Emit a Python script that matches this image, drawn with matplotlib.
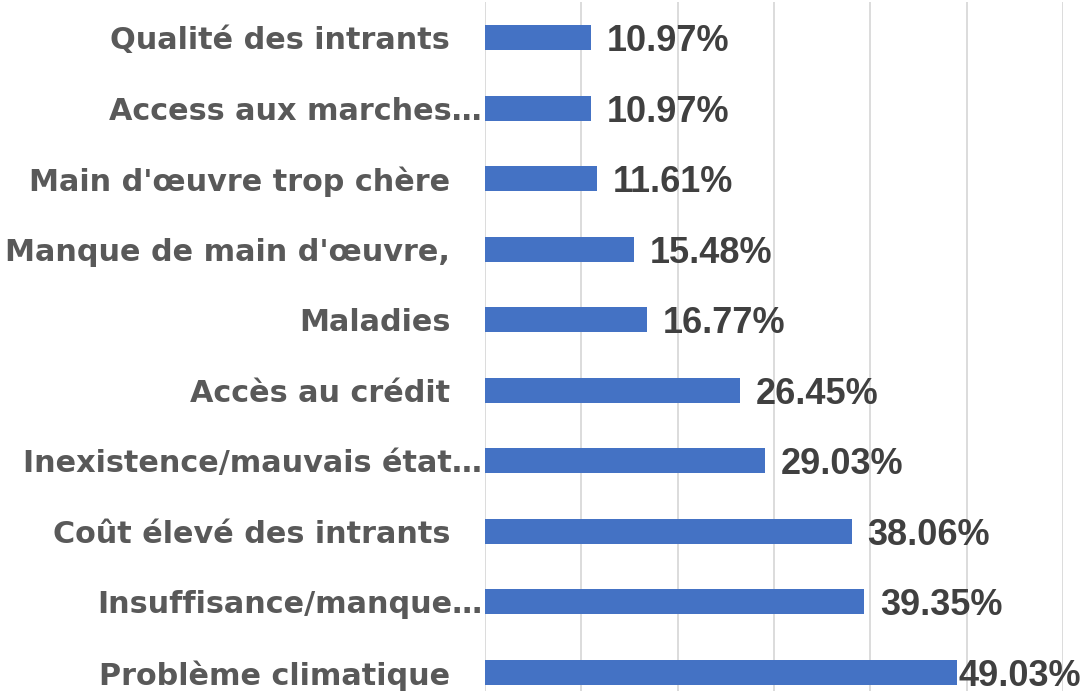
import matplotlib
matplotlib.use("Agg")
import matplotlib.pyplot as plt
from matplotlib.transforms import ScaledTranslation

# Data (bottom to top)
categories = [
    "Problème climatique",
    "Insuffisance/manque…",
    "Coût élevé des intrants",
    "Inexistence/mauvais état…",
    "Accès au crédit",
    "Maladies",
    "Manque de main d'œuvre,",
    "Main d'œuvre trop chère",
    "Access aux marches…",
    "Qualité des intrants",
]
values = [49.03, 39.35, 38.06, 29.03, 26.45, 16.77, 15.48, 11.61, 10.97, 10.97]
value_labels = ["49.03%", "39.35%", "38.06%", "29.03%", "26.45%",
                "16.77%", "15.48%", "11.61%", "10.97%", "10.97%"]
x_ticks = [0, 10, 20, 30, 40, 50, 60]

BAR = "#4472C4"
GRID = "#D9D9D9"
TICK_COLOR = "#595959"
VAL_COLOR = "#404040"

W, H = 1084, 691
DPI = 100
fig = plt.figure(figsize=(W / DPI, H / DPI), dpi=DPI)
fig.patch.set_facecolor("white")

left_px, right_px = 485, 1063
top_px, bottom_px = 2.2, 707.8
ax = fig.add_axes([left_px / W, (H - bottom_px) / H,
                   (right_px - left_px) / W, (bottom_px - top_px) / H])

ypos = list(range(len(categories)))
ax.barh(ypos, values, height=0.354, color=BAR, zorder=3)

ax.set_xlim(x_ticks[0], x_ticks[-1])
ax.set_ylim(-0.5, len(categories) - 0.5)
ax.set_xticks(x_ticks)
ax.xaxis.set_ticklabels([])
ax.tick_params(axis="x", length=0)
ax.grid(axis="x", color=GRID, linewidth=1.3, zorder=0)
ax.set_axisbelow(True)
for s in ax.spines.values():
    s.set_visible(False)

ax.set_yticks(ypos)
ax.set_yticklabels(categories, fontfamily="DejaVu Sans", fontweight="bold",
                   fontsize=21.8, color=TICK_COLOR)
ax.tick_params(axis="y", length=0, pad=2)
for lbl in ax.get_yticklabels():
    if not lbl.get_text().endswith("…"):
        lbl.set_transform(lbl.get_transform() +
                          ScaledTranslation(-32 / DPI, 0, fig.dpi_scale_trans))

texts = []
for y, v, s in zip(ypos, values, value_labels):
    t = ax.text(v, y, s, ha="left", va="center_baseline",
                fontfamily="Liberation Sans", fontweight="bold",
                fontsize=26, color=VAL_COLOR, zorder=4,
                transform=ax.transData + ScaledTranslation(16 / DPI, 0, fig.dpi_scale_trans))
    texts.append(t)

fig.canvas.draw()
renderer = fig.canvas.get_renderer()
for t, y in zip(texts, ypos):
    bb = t.get_window_extent(renderer)
    if bb.x1 > W - 3:
        new_left = W - 3 - bb.width
        ydisp = ax.transData.transform((0, y))[1]
        xd = ax.transData.inverted().transform((new_left, ydisp))[0]
        t.set_transform(ax.transData)
        t.set_position((xd, y))

fig.savefig("out.png", dpi=DPI, facecolor="white")
